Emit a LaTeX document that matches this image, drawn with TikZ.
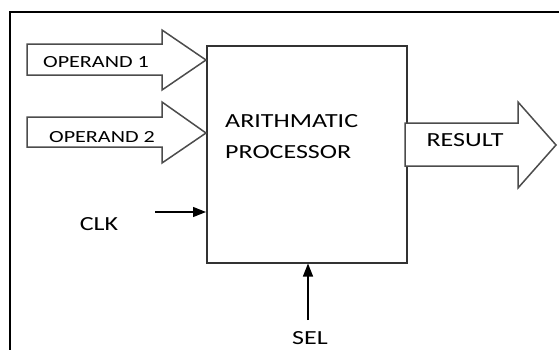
\documentclass[tikz,border=0pt]{standalone}
\usepackage{fontspec}
\setmainfont[FakeStretch=1.3]{Carlito}
\usetikzlibrary{arrows.meta}
\begin{document}
\begin{tikzpicture}[x=1pt,y=-1pt,
  frame/.style={line width=2pt,black},
  blockarrow/.style={draw=black!70,line width=1.5pt,fill=white,line join=miter},
  lbl/.style={text=black,font=\fontsize{20}{24}\selectfont,inner sep=0pt},
  smalllbl/.style={text=black,font=\fontsize{17}{20}\selectfont,inner sep=0pt},
  sig/.style={line width=1.3pt,-{Triangle[length=13pt,width=10pt]}}]
\useasboundingbox (0,0) rectangle (559,349);
\begin{scope}
\clip (0,0) rectangle (559,349);
\draw[frame] (10,12) rectangle (580,370);
\end{scope}
% processor
\node[draw=black!80,line width=1.5pt,minimum width=200pt,minimum height=217pt,anchor=north west,inner sep=0pt] (proc) at (206,45) {};
\node[lbl,anchor=base west] (t1) at (225,127) {ARITHMATIC};
\node[lbl,anchor=base west] (t2) at (225,158) {PROCESSOR};
% operand 1
\draw[blockarrow] (27,44) -- (162,44) -- (162,30) -- (206,60) -- (162,90) -- (162,75) -- (27,75) -- cycle;
\node[smalllbl] (op1) at (96,62) {OPERAND 1};
% operand 2
\draw[blockarrow] (27,117) -- (162,117) -- (162,102) -- (206,133) -- (162,163) -- (162,147) -- (27,147) -- cycle;
\node[smalllbl] (op2) at (102,137) {OPERAND 2};
% result
\draw[blockarrow] (405,123) -- (518,123) -- (518,102) -- (556,145) -- (518,188) -- (518,166) -- (405,166) -- cycle;
\node[lbl] (res) at (465,140) {RESULT};
% clk
\coordinate (clkstart) at (155,212);
\draw[sig] (clkstart) -- (proc.west |- clkstart);
\node[lbl] (clk) at (99,224) {CLK};
% sel
\coordinate (selstart) at (308,320);
\draw[sig] (selstart) -- (selstart |- proc.south);
\node[lbl,anchor=base] (sel) at (310,344) {SEL};
\end{tikzpicture}
\end{document}
